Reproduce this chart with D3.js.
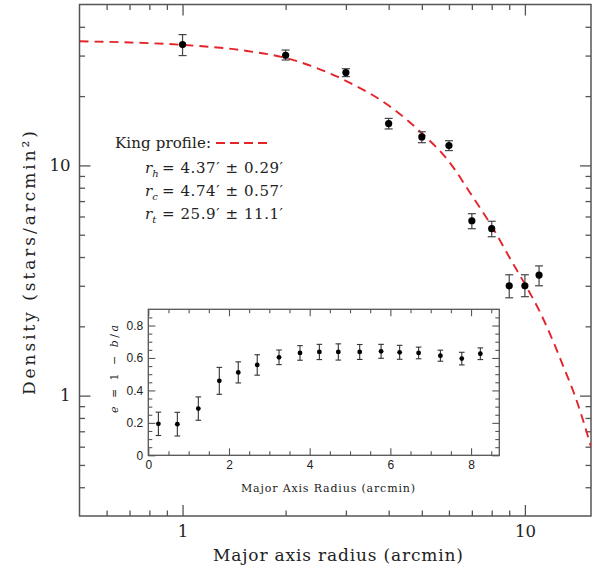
<!DOCTYPE html>
<html><head><meta charset="utf-8">
<script src="https://cdn.jsdelivr.net/npm/d3@7"></script>
<style>body{margin:0;background:#fff}svg{display:block}</style>
</head><body><svg id="c" width="598" height="573"></svg>
<script>
// ---- main profile data ----
const radius    = [1, 2, 3, 4, 5, 6, 7, 8, 9, 10, 11];
const density   = [33.5, 30.1, 25.3, 15.2, 13.3, 12.2, 5.75, 5.31, 3.0, 3.0, 3.34];
const densityHi = [37.0, 31.7, 26.3, 16.0, 14.0, 12.8, 6.17, 5.72, 3.35, 3.35, 3.66];
const densityLo = [30.0, 28.7, 24.3, 14.4, 12.55, 11.6, 5.31, 4.9, 2.66, 2.69, 3.0];
// King profile curve
const kingR       = [0.5, 0.7, 1.0, 1.5, 2.0, 3.0, 4.0, 5.0, 6.0, 7.0, 8.0, 9.0, 10.0, 11.0, 12.0, 13.0, 14.0, 15.0, 15.6];
const kingDensity = [34.6, 34.2, 33.4, 31.6, 29.3, 23.3, 18.2, 13.8, 10.4, 7.4, 5.45, 4.0, 3.05, 2.35, 1.77, 1.32, 1.0, 0.73, 0.60];
const xMajorTicks = [1, 10];
const xMinorTicks = [0.6, 0.7, 0.8, 0.9, 2, 3, 4, 5, 6, 7, 8, 9];
const yMajorTicks = [1, 10];
const yMinorTicks = [0.4, 0.5, 0.6, 0.7, 0.8, 0.9, 2, 3, 4, 5, 6, 7, 8, 9, 20, 30, 40];
const xTickLabels = ["1", "10"];
const yTickLabels = ["1", "10"];
// ---- inset ellipticity data ----
const insetR   = [0.25, 0.72, 1.24, 1.76, 2.23, 2.70, 3.24, 3.76, 4.24, 4.71, 5.24, 5.77, 6.23, 6.70, 7.24, 7.77, 8.23];
const insetE   = [0.194, 0.192, 0.288, 0.459, 0.511, 0.557, 0.604, 0.631, 0.637, 0.637, 0.637, 0.641, 0.635, 0.631, 0.614, 0.596, 0.626];
const insetErr = [0.072, 0.073, 0.072, 0.083, 0.065, 0.063, 0.045, 0.045, 0.047, 0.050, 0.046, 0.043, 0.043, 0.036, 0.034, 0.039, 0.036];
const insetXMajor = [0, 2, 4, 6, 8];
const insetYMajor = [0, 0.2, 0.4, 0.6, 0.8];
const insetXTickLabels = ["0", "2", "4", "6", "8"];
const insetYTickLabels = ["0", "0.2", "0.4", "0.6", "0.8"];

const svg = d3.select("#c");
const SERIF = "'DejaVu Serif', serif";
const FRAME = "#555";
const TXT = "#222";

const x = d3.scaleLog().domain([0.5, 15.6]).range([79.5, 591]);
const y = d3.scaleLog().domain([0.3, 50]).range([516, 4.5]);
const [L, R] = x.range(), [B, T] = y.range();

function styleAxis(g) {
  g.select(".domain").remove();
  g.selectAll(".tick line").attr("stroke", FRAME).attr("stroke-width", 1.3);
}
function mainAxes() {
  const mk = (axisFn, scale, vals, size, labels, tr) => {
    const a = axisFn(scale).tickValues(vals).tickSize(-size).tickPadding(9)
      .tickFormat(labels ? (d, i) => labels[i] : () => "");
    const g = svg.append("g").attr("transform", tr).call(a).call(styleAxis);
    g.selectAll("text").attr("font-family", SERIF).attr("font-size", 16.5).attr("fill", TXT);
    return g;
  };
  mk(d3.axisBottom, x, xMajorTicks, 11, xTickLabels, `translate(0,${B})`);
  mk(d3.axisBottom, x, xMinorTicks, 5.5, null, `translate(0,${B})`);
  mk(d3.axisTop, x, xMajorTicks, 11, null, `translate(0,${T})`);
  mk(d3.axisTop, x, xMinorTicks, 5.5, null, `translate(0,${T})`);
  mk(d3.axisLeft, y, yMajorTicks, 11, yTickLabels, `translate(${L},0)`);
  mk(d3.axisLeft, y, yMinorTicks, 5.5, null, `translate(${L},0)`);
  mk(d3.axisRight, y, yMajorTicks, 11, null, `translate(${R},0)`);
  mk(d3.axisRight, y, yMinorTicks, 5.5, null, `translate(${R},0)`);
  svg.append("rect").attr("x", L).attr("y", T).attr("width", R - L).attr("height", B - T)
    .attr("fill", "none").attr("stroke", FRAME).attr("stroke-width", 1.5);
}
mainAxes();

// King profile curve
svg.append("clipPath").attr("id", "mc").append("rect")
  .attr("x", L).attr("y", T).attr("width", R - L).attr("height", B - T);
svg.append("path")
  .datum(kingR.map((r, i) => [r, kingDensity[i]]))
  .attr("clip-path", "url(#mc)")
  .attr("d", d3.line().x(d => x(d[0])).y(d => y(d[1])).curve(d3.curveMonotoneX))
  .attr("fill", "none").attr("stroke", "#e3242b").attr("stroke-width", 1.9)
  .attr("stroke-dasharray", "9,6");

// main data points with error bars
const pts = svg.append("g");
radius.forEach((r, i) => {
  const cx = x(r);
  pts.append("line").attr("x1", cx).attr("x2", cx).attr("y1", y(densityLo[i])).attr("y2", y(densityHi[i]))
    .attr("stroke", "#444").attr("stroke-width", 1.2);
  [densityLo[i], densityHi[i]].forEach(v => pts.append("line")
    .attr("x1", cx - 4).attr("x2", cx + 4).attr("y1", y(v)).attr("y2", y(v))
    .attr("stroke", "#444").attr("stroke-width", 1.2));
  pts.append("circle").attr("cx", cx).attr("cy", y(density[i])).attr("r", 3.6).attr("fill", "#000");
});

// axis titles
svg.append("text").attr("x", 338).attr("y", 561).attr("text-anchor", "middle")
  .attr("font-family", SERIF).attr("font-size", 17).attr("fill", TXT)
  .attr("textLength", 250).attr("lengthAdjust", "spacing")
  .text("Major axis radius (arcmin)");
svg.append("text").attr("transform", "translate(35,263) rotate(-90)").attr("text-anchor", "middle")
  .attr("font-family", SERIF).attr("font-size", 17).attr("fill", TXT)
  .attr("textLength", 264).attr("lengthAdjust", "spacing")
  .text("Density (stars/arcmin²)");

// legend / fit parameters
const leg = svg.append("g").attr("font-family", SERIF).attr("fill", TXT);
leg.append("text").attr("x", 115).attr("y", 148).attr("font-size", 15)
  .attr("textLength", 96).attr("lengthAdjust", "spacing").text("King profile:");
leg.append("line").attr("x1", 216).attr("x2", 269).attr("y1", 143).attr("y2", 143)
  .attr("stroke", "#e3242b").attr("stroke-width", 1.9).attr("stroke-dasharray", "9,5");
const params = [["h", "= 4.37′ ± 0.29′", 173], ["c", "= 4.74′ ± 0.57′", 196], ["t", "= 25.9′ ± 11.1′", 219]];
params.forEach(([sub, rest, by]) => {
  const t = leg.append("text").attr("x", 145).attr("y", by).attr("font-size", 15);
  t.append("tspan").attr("font-style", "italic").text("r");
  t.append("tspan").attr("font-style", "italic").attr("font-size", 10).attr("dy", 4).text(sub);
  leg.append("text").attr("x", 162).attr("y", by).attr("font-size", 15)
    .attr("textLength", 121).attr("lengthAdjust", "spacing").text(rest);
});

// ---- inset ----
const ix = d3.scaleLinear().domain([0, 8.7]).range([148.3, 499.3]);
const iy = d3.scaleLinear().domain([0, 0.9]).range([455.3, 309.3]);
const [iL, iR] = ix.range(), [iB, iT] = iy.range();
svg.append("rect").attr("x", iL).attr("y", iT).attr("width", iR - iL).attr("height", iB - iT).attr("fill", "#fff");
const insetXMinor = d3.range(0.5, 8.7, 0.5).filter(v => Math.abs(v / 2 - Math.round(v / 2)) > 1e-6);
const insetYMinor = d3.range(0.05, 0.9, 0.05).filter(v => Math.abs(v / 0.2 - Math.round(v / 0.2)) > 1e-6);
function inAx(axisFn, scale, vals, size, labels, tr) {
  const a = axisFn(scale).tickValues(vals).tickSize(-size).tickPadding(5)
    .tickFormat(labels ? (d, i) => labels[i] : () => "");
  const g = svg.append("g").attr("transform", tr).call(a).call(styleAxis);
  g.selectAll(".tick line").attr("stroke-width", 1.1);
  g.selectAll("text").attr("font-family", "'Liberation Sans', Arial, sans-serif").attr("font-size", 12).attr("fill", TXT);
}
inAx(d3.axisBottom, ix, insetXMajor, 7, insetXTickLabels, `translate(0,${iB})`);
inAx(d3.axisBottom, ix, insetXMinor, 4, null, `translate(0,${iB})`);
inAx(d3.axisTop, ix, insetXMajor, 7, null, `translate(0,${iT})`);
inAx(d3.axisTop, ix, insetXMinor, 4, null, `translate(0,${iT})`);
inAx(d3.axisLeft, iy, insetYMajor, 7, insetYTickLabels, `translate(${iL},0)`);
inAx(d3.axisLeft, iy, insetYMinor, 4, null, `translate(${iL},0)`);
inAx(d3.axisRight, iy, insetYMajor, 7, null, `translate(${iR},0)`);
inAx(d3.axisRight, iy, insetYMinor, 4, null, `translate(${iR},0)`);
svg.append("rect").attr("x", iL).attr("y", iT).attr("width", iR - iL).attr("height", iB - iT)
  .attr("fill", "none").attr("stroke", FRAME).attr("stroke-width", 1.3);

const ipts = svg.append("g");
insetR.forEach((r, i) => {
  const cx = ix(r), lo = insetE[i] - insetErr[i], hi = insetE[i] + insetErr[i];
  ipts.append("line").attr("x1", cx).attr("x2", cx).attr("y1", iy(lo)).attr("y2", iy(hi))
    .attr("stroke", "#333").attr("stroke-width", 1.1);
  [lo, hi].forEach(v => ipts.append("line").attr("x1", cx - 2.8).attr("x2", cx + 2.8)
    .attr("y1", iy(v)).attr("y2", iy(v)).attr("stroke", "#333").attr("stroke-width", 1.1));
  ipts.append("circle").attr("cx", cx).attr("cy", iy(insetE[i])).attr("r", 2.4).attr("fill", "#000");
});
svg.append("text").attr("x", 328).attr("y", 492).attr("text-anchor", "middle")
  .attr("font-family", SERIF).attr("font-size", 11).attr("fill", TXT)
  .attr("textLength", 174).attr("lengthAdjust", "spacing")
  .text("Major Axis Radius (arcmin)");
const iyl = svg.append("text").attr("transform", "translate(118,369) rotate(-90)").attr("text-anchor", "middle")
  .attr("font-family", SERIF).attr("font-size", 11).attr("fill", TXT)
  .attr("textLength", 88).attr("lengthAdjust", "spacing");
iyl.append("tspan").attr("font-style", "italic").text("e");
iyl.append("tspan").text(" = 1 − ");
iyl.append("tspan").attr("font-style", "italic").text("b");
iyl.append("tspan").text("/");
iyl.append("tspan").attr("font-style", "italic").text("a");
</script></body></html>
